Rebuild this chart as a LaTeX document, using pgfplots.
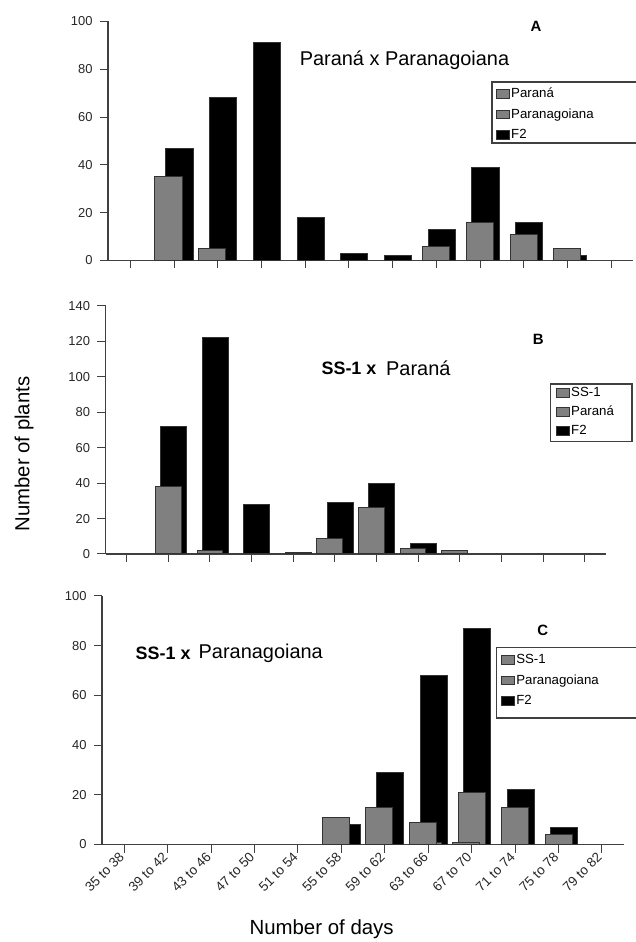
\documentclass[border=0pt]{standalone}
\usepackage{fontspec}
\setmainfont{Liberation Sans}
\usepackage{pgfplots}
\pgfplotsset{compat=1.18}
\definecolor{bargray}{HTML}{808080}
\definecolor{axgray}{HTML}{404040}
\pgfplotsset{
  panel/.style={
    scale only axis,
    axis lines*=left,
    axis line style={axgray, line width=1.1bp},
    xmin=-0.51, xmax=11.5, ymin=0,
    xtick={0,...,11},
    xticklabels={},
    tick align=outside,
    major tick length=8bp,
    tick style={axgray, line width=1bp},
    every tick label/.append style={font=\fontsize{13}{15}\selectfont, text=black!85},
    yticklabel style={xshift=-4bp},
    /pgf/number format/assume math mode=true,
    clip=false,
    reverse legend,
    legend cell align=left,
    legend style={draw=none, fill=none, anchor=north west, inner sep=0bp,
      row sep=7.3bp, column sep=0bp,
      font=\fontsize{13.3}{15}\selectfont,
      nodes={inner xsep=1bp, inner ysep=0bp, text height=10bp, text depth=3bp}},
  },
  limg/.style={legend image code/.code={\draw[##1, line width=1bp] (0bp,-4.25bp) rectangle (13bp,4.25bp);}},
  f2/.style={ybar, bar width=0.62, bar shift=0.126, fill=black, draw=black!80, line width=1bp, limg},
  s1/.style={ybar, bar width=0.62, bar shift=-0.126, fill=bargray, draw=black!80, line width=1bp, limg},
  s2/.style={ybar, bar width=0.62, bar shift=0, fill=bargray, draw=black!80, line width=1bp, limg},
}
\begin{document}
\begin{tikzpicture}
\path[use as bounding box] (0bp,0bp) rectangle (636bp,942bp);
% ---------- Panel A ----------
\begin{axis}[panel, at={(108bp,681.5bp)}, anchor=south west, width=525bp, height=239bp,
  ymax=100, ytick={0,20,...,100},
  legend style={at={(0.739,0.7238)}}]
\addplot[f2] coordinates {(1,47) (2,68) (3,91) (4,18) (5,3) (6,2) (7,13) (8,39) (9,16) (10,2)};
\addlegendentry{F2}
\addplot[s2] coordinates {(7,6) (8,16) (9,11) (10,5)};
\addlegendentry{Paranagoiana}
\addplot[s1] coordinates {(1,35) (2,5)};
\addlegendentry{Paraná}
\end{axis}
\draw[axgray, line width=1.2bp] (492bp,860bp) rectangle (660bp,799bp);
\node[font=\bfseries\fontsize{15}{18}\selectfont] at (536bp,916bp) {A};
\node[font=\fontsize{20}{24}\selectfont] at (404.5bp,882bp) {Paraná x Paranagoiana};
% ---------- Panel B ----------
\begin{axis}[panel, at={(105.5bp,388bp)}, anchor=south west, width=500bp, height=248bp,
  ymax=140, ytick={0,20,...,140},
  legend style={at={(0.901,0.677)}, row sep=6.2bp}]
\addplot[f2] coordinates {(1,72) (2,122) (3,28) (4,1) (5,29) (6,40) (7,6)};
\addlegendentry{F2}
\addplot[s2] coordinates {(1,38) (2,2)};
\addlegendentry{Paraná}
\addplot[s1] coordinates {(5,9) (6,26) (7,3) (8,2)};
\addlegendentry{SS-1}
\end{axis}
\draw[axgray, line width=1.2bp] (550.7bp,558bp) rectangle (632bp,500.3bp);
\node[font=\bfseries\fontsize{15}{18}\selectfont] at (538.3bp,603bp) {B};
\node[anchor=west, font=\bfseries\fontsize{18}{22}\selectfont, inner sep=0bp] at (321.4bp,574bp) {SS-1 x};
\node[anchor=west, font=\fontsize{20}{24}\selectfont, inner sep=0bp] at (386bp,574bp) {Paraná};
% ---------- Panel C ----------
\begin{axis}[panel, at={(102bp,97.5bp)}, anchor=south west, width=521.7bp, height=248.5bp,
  ymax=100, ytick={0,20,...,100},
  xticklabels={35 to 38,39 to 42,43 to 46,47 to 50,51 to 54,55 to 58,59 to 62,63 to 66,67 to 70,71 to 74,75 to 78,79 to 82},
  xticklabel style={rotate=45, anchor=east, font=\fontsize{13.5}{15}\selectfont},
  legend style={at={(0.765,0.769)}, row sep=7.5bp}]
\addplot[f2] coordinates {(5,8) (6,29) (7,68) (8,87) (9,22) (10,7)};
\addlegendentry{F2}
\addplot[s2] coordinates {(7,1) (8,21) (9,15) (10,4)};
\addlegendentry{Paranagoiana}
\addplot[s1] coordinates {(5,11) (6,15) (7,9) (8,1)};
\addlegendentry{SS-1}
\end{axis}
\draw[axgray, line width=1.2bp] (496.7bp,294.7bp) rectangle (660bp,224bp);
\node[font=\bfseries\fontsize{15}{18}\selectfont] at (542.8bp,312bp) {C};
\node[anchor=west, font=\bfseries\fontsize{18}{22}\selectfont, inner sep=0bp] at (135.5bp,289bp) {SS-1 x};
\node[anchor=west, font=\fontsize{20}{24}\selectfont, inner sep=0bp] at (198.5bp,289bp) {Paranagoiana};
% ---------- axis titles ----------
\node[rotate=90, font=\fontsize{20.4}{24}\selectfont] at (24bp,488bp) {Number of plants};
\node[font=\fontsize{20.5}{24}\selectfont] at (321.6bp,13bp) {Number of days};
\end{tikzpicture}
\end{document}
